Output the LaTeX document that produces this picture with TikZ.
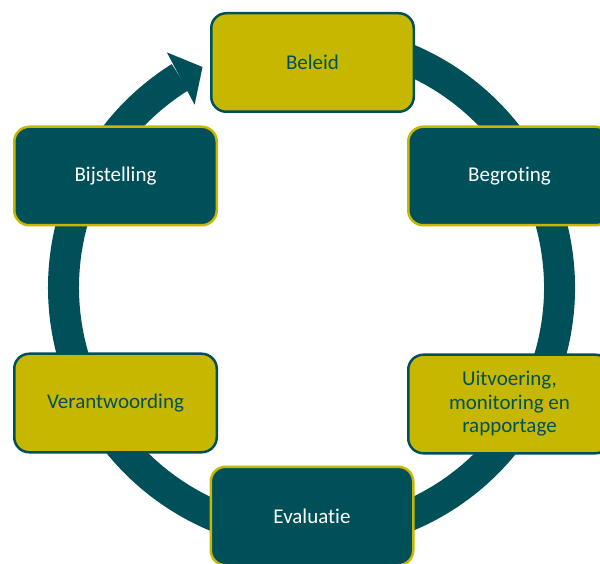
\documentclass[tikz,border=0pt]{standalone}
\usepackage{fontspec}
\setmainfont{Carlito}[Ligatures=NoCommon]
\definecolor{teal1}{HTML}{00505A}
\definecolor{olive1}{HTML}{C6B800}
\begin{document}
\begin{tikzpicture}[x=1pt,y=1pt,
  box/.style={rounded corners=15pt, minimum width=202.5pt, minimum height=98.5pt,
    line width=2.5pt, align=center, font=\fontsize{21}{23.5}\selectfont, inner sep=0pt},
  ybox/.style={box, fill=olive1, draw=teal1, text=teal1},
  tbox/.style={box, fill=teal1, draw=olive1, text=white},
  ring/.style={draw=teal1, line width=31pt}]
\useasboundingbox (0,0) rectangle (600,563);
\clip (0,0) rectangle (600,563);
\coordinate (c) at (311.5,275.5);
% ring
\draw[ring] ([shift={(100:248)}]c) arc[start angle=100, end angle=-238, radius=248];
% arrow head
\fill[teal1] ([shift={(121.6:276)}]c) -- ([shift={(116.3:246)}]c) -- ([shift={(122.6:217)}]c) -- cycle;
% boxes
\node[ybox] (beleid) at (312.5,500.5) {Beleid};
\node[tbox] (begroting) at (509.5,387) {Begroting};
\node[ybox] (uitvoering) at (509.5,159) {Uitvoering,\\monitoring en\\rapportage};
\node[tbox] (evaluatie) at (312,47) {Evaluatie};
\node[ybox] (verantwoording) at (115.5,160) {Verantwoording};
\node[tbox] (bijstelling) at (115.5,387) {Bijstelling};
\end{tikzpicture}
\end{document}
